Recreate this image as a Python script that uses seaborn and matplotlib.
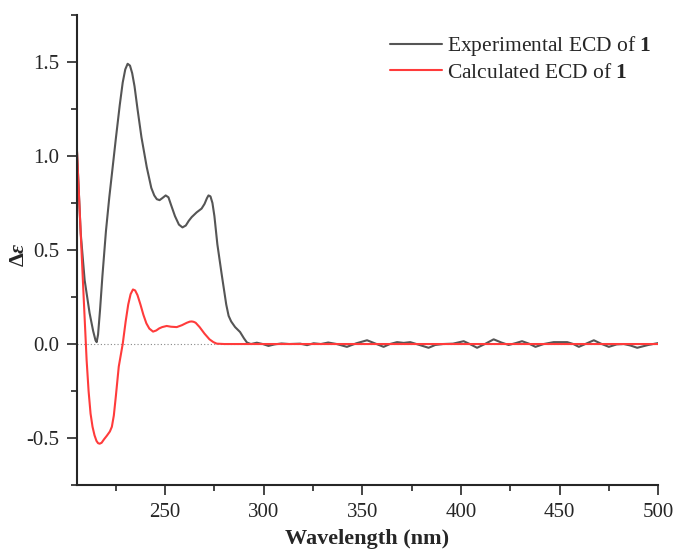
import numpy as np
import pandas as pd
import matplotlib
matplotlib.use("Agg")
import matplotlib.pyplot as plt
import seaborn as sns
from matplotlib.ticker import MultipleLocator, FormatStrFormatter

# Experimental ECD
exp_wl = [205.3, 207.2, 209.2, 211.7, 213.5, 214.7, 215.3, 216.0, 217.0, 218.2,
          220.0, 221.7, 223.3, 225.0, 227.0, 228.5, 229.8, 231.0, 232.2, 233.3,
          234.5, 236.0, 238.0, 240.7, 243.0, 244.5, 245.8, 247.2, 248.5, 250.3,
          251.7, 253.0, 255.0, 257.0, 258.8, 260.5, 262.0, 263.5, 266.0, 268.5,
          270.0, 271.2, 272.0, 273.0, 274.0, 275.0, 276.5, 278.7, 281.0, 282.2,
          283.5, 285.5, 288.0, 290.0, 291.5, 293.5, 296.5, 299.5, 302.4, 305.5,
          309.0, 313.0, 318.5, 322.0, 325.3, 329.0, 332.7, 337.0, 342.2, 347.0,
          352.4, 356.5, 360.8, 364.0, 367.6, 371.0, 374.3, 379.0, 383.6, 387.0,
          391.0, 396.0, 401.4, 404.5, 408.2, 412.5, 416.6, 420.5, 424.2, 427.5,
          431.0, 434.5, 437.8, 442.0, 447.0, 450.5, 453.9, 457.0, 459.8, 463.5,
          467.4, 471.0, 475.0, 479.0, 482.6, 486.0, 489.4, 495.0, 500.0]
exp_de = [1.03, 0.59, 0.34, 0.165, 0.07, 0.02, 0.01, 0.05, 0.18, 0.36,
          0.60, 0.78, 0.93, 1.09, 1.27, 1.39, 1.46, 1.49, 1.48, 1.44,
          1.37, 1.25, 1.10, 0.94, 0.83, 0.79, 0.77, 0.765, 0.775, 0.79,
          0.78, 0.74, 0.68, 0.635, 0.62, 0.63, 0.655, 0.675, 0.70, 0.72,
          0.745, 0.775, 0.79, 0.785, 0.75, 0.68, 0.53, 0.37, 0.21, 0.15,
          0.12, 0.09, 0.064, 0.03, 0.008, 0.0, 0.007, 0.0, -0.01, -0.002,
          0.003, 0.0, 0.002, -0.006, 0.004, 0.0, 0.008, 0.0, -0.015, 0.004,
          0.02, 0.003, -0.015, 0.0, 0.01, 0.006, 0.01, -0.005, -0.02, -0.005,
          0.0, 0.002, 0.015, 0.0, -0.02, 0.002, 0.025, 0.008, -0.005, 0.004,
          0.015, 0.002, -0.015, 0.0, 0.01, 0.01, 0.01, 0.0, -0.015, 0.002,
          0.02, 0.002, -0.015, -0.002, 0.0, -0.008, -0.02, -0.005, 0.005]

# Calculated ECD
calc_wl = [205.3, 207.2, 208.7, 210.2, 211.2, 212.2, 213.2, 214.2, 215.2, 216.0,
           216.8, 217.8, 219.0, 220.5, 222.0, 223.0, 224.0, 225.0, 226.5, 228.5,
           230.0, 231.3, 232.5, 233.7, 234.8, 236.0, 237.5, 239.0, 240.5, 242.0,
           243.9, 245.5, 247.0, 248.5, 250.8, 253.0, 255.9, 258.5, 261.0, 262.5,
           263.5, 264.5, 265.5, 267.5, 270.0, 272.5, 274.5, 276.2, 280.0, 300.0,
           350.0, 400.0, 450.0, 500.0]
calc_de = [1.03, 0.59, 0.25, -0.085, -0.25, -0.37, -0.44, -0.485, -0.515, -0.527,
           -0.53, -0.525, -0.507, -0.487, -0.465, -0.44, -0.38, -0.28, -0.12, 0.0,
           0.12, 0.21, 0.265, 0.29, 0.285, 0.26, 0.21, 0.155, 0.11, 0.082,
           0.066, 0.072, 0.083, 0.09, 0.096, 0.092, 0.09, 0.10, 0.113, 0.119,
           0.12, 0.118, 0.113, 0.09, 0.055, 0.025, 0.01, 0.002, 0.0, 0.0,
           0.0, 0.0, 0.0, 0.0]

exp = pd.DataFrame({"wl": exp_wl, "de": exp_de})
calc = pd.DataFrame({"wl": calc_wl, "de": calc_de})

sns.set_style("ticks")
plt.rcParams["font.family"] = ["Liberation Serif", "DejaVu Serif"]
plt.rcParams["mathtext.fontset"] = "custom"
plt.rcParams["mathtext.rm"] = "Liberation Serif"
plt.rcParams["mathtext.bf"] = "Liberation Serif:bold"
plt.rcParams["mathtext.it"] = "Liberation Serif:italic"
plt.rcParams["mathtext.bfit"] = "Liberation Serif:bold:italic"
plt.rcParams["axes.unicode_minus"] = False

fig = plt.figure(figsize=(6.75, 5.5), dpi=100)
ax = fig.add_axes([0.114, 0.118, 0.861, 0.855])

ax.axhline(0, color="#888888", lw=0.8, ls=(0, (1, 2)), zorder=1)
sns.lineplot(data=exp, x="wl", y="de", ax=ax, color="#555555", lw=1.5,
             estimator=None, label=r"Experimental ECD of $\mathbf{1}$")
sns.lineplot(data=calc, x="wl", y="de", ax=ax, color="#ff3b3b", lw=1.5,
             estimator=None, label=r"Calculated ECD of $\mathbf{1}$")

ax.set_xlim(205.3, 500)
ax.set_ylim(-0.75, 1.75)
ax.xaxis.set_major_locator(MultipleLocator(50))
ax.xaxis.set_minor_locator(MultipleLocator(25))
ax.yaxis.set_major_locator(MultipleLocator(0.5))
ax.yaxis.set_minor_locator(MultipleLocator(0.25))
ax.yaxis.set_major_formatter(FormatStrFormatter("%.1f"))

for s in ["top", "right"]:
    ax.spines[s].set_visible(False)
for s in ["left", "bottom"]:
    ax.spines[s].set_linewidth(1.5)
ax.tick_params(which="major", length=7, width=1.2, labelsize=15, pad=6)
ax.tick_params(which="minor", length=4, width=1.2)

ax.set_xlabel("Wavelength (nm)", fontsize=16, fontweight="bold", labelpad=5)
ax.set_ylabel(r"$\mathbf{\Delta}\mathbfit{\varepsilon}$", fontsize=16)
ax.yaxis.set_label_coords(-0.082, 0.49)

ax.legend(loc="upper right", bbox_to_anchor=(1.022, 1.0), frameon=False,
          fontsize=15.5, handlelength=2.4, handletextpad=0.25, labelspacing=0.2)

fig.savefig("out.png", dpi=100)
